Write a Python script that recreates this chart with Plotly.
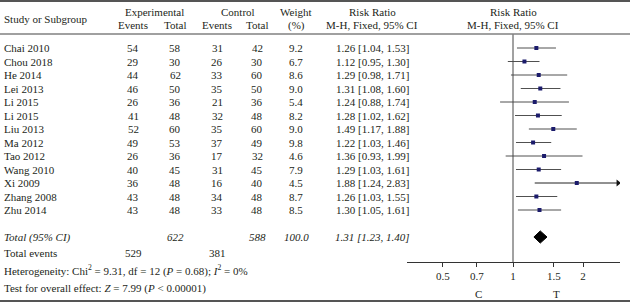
import math
import plotly.graph_objects as go

# ---------------- data ----------------
studies = ["Chai 2010", "Chou 2018", "He 2014", "Lei 2013", "Li 2015", "Li 2015",
           "Liu 2013", "Ma 2012", "Tao 2012", "Wang 2010", "Xi 2009", "Zhang 2008", "Zhu 2014"]
exp_events = [54, 29, 44, 46, 26, 41, 52, 49, 26, 40, 36, 43, 43]
exp_total = [58, 30, 62, 50, 36, 48, 60, 53, 36, 45, 48, 48, 48]
ctl_events = [31, 26, 33, 35, 21, 32, 35, 37, 17, 31, 16, 34, 33]
ctl_total = [42, 30, 60, 50, 36, 48, 60, 49, 32, 45, 40, 48, 48]
weights = ["9.2", "6.7", "8.6", "9.0", "5.4", "8.2", "9.0", "9.8", "4.6", "7.9", "4.5", "8.7", "8.5"]
rr = [1.26, 1.12, 1.29, 1.31, 1.24, 1.28, 1.49, 1.22, 1.36, 1.29, 1.88, 1.26, 1.30]
rr_lo = [1.04, 0.95, 0.98, 1.08, 0.88, 1.02, 1.17, 1.03, 0.93, 1.03, 1.24, 1.03, 1.05]
rr_hi = [1.53, 1.30, 1.71, 1.60, 1.74, 1.62, 1.88, 1.46, 1.99, 1.61, 2.83, 1.55, 1.61]
arrow_studies = ["Xi 2009"]

total_exp = 622
total_ctl = 588
total_weight = "100.0"
total_rr = 1.31
total_lo = 1.23
total_hi = 1.40
events_exp = 529
events_ctl = 381
heterogeneity = "Heterogeneity: Chi<sup>2</sup> = 9.31, df = 12 (<i>P</i> = 0.68); <i>I</i><sup>2</sup> = 0%"
overall = "Test for overall effect: <i>Z</i> = 7.99 (<i>P</i> &lt; 0.00001)"
tick_vals = [0.5, 0.7, 1, 1.5, 2]
tick_text = ["0.5", "0.7", "1", "1.5", "2"]
favours = ["C", "T"]

# ---------------- layout constants ----------------
W, H = 630, 303
ROW0 = 48.0
PITCH = 13.5
FONT = "Liberation Serif"
TXT = "#231f20"
FS = 11


def row(px):
    return (px - ROW0) / PITCH


X1_PX = 513.0
PX_DEC = 232.6
AX_L, AX_R = 407.0, 620.0
x_range = [(AX_L - X1_PX) / PX_DEC, (AX_R - X1_PX) / PX_DEC]

fig = go.Figure()

n = len(studies)
rows = list(range(n))

# CI lines
xs, ys = [], []
for i in rows:
    if studies[i] in arrow_studies:
        continue
    xs += [rr_lo[i], rr_hi[i], None]
    ys += [i, i, None]
fig.add_trace(go.Scatter(x=xs, y=ys, mode="lines", line=dict(color="#505050", width=1),
                         hoverinfo="skip", showlegend=False))
for i in rows:
    if studies[i] in arrow_studies:
        fig.add_trace(go.Scatter(x=[rr_lo[i], rr_hi[i]], y=[i, i], mode="lines",
                                 line=dict(color="#222222", width=1), hoverinfo="skip", showlegend=False))
        fig.add_trace(go.Scatter(x=[rr_hi[i]], y=[i], mode="markers",
                                 marker=dict(symbol="triangle-right", size=6, color="#111111"),
                                 hoverinfo="skip", showlegend=False))

# point estimates
fig.add_trace(go.Scatter(x=rr, y=rows, mode="markers",
                         marker=dict(symbol="square", size=4, color="#1b1b6b"),
                         hoverinfo="skip", showlegend=False))

# total diamond
tr = 14
fig.add_trace(go.Scatter(x=[total_lo, total_rr, total_hi, total_rr, total_lo],
                         y=[tr, tr - 0.45, tr, tr + 0.45, tr], mode="lines", fill="toself",
                         fillcolor="#000000", line=dict(color="#000000", width=1),
                         hoverinfo="skip", showlegend=False))

# vertical no-effect line
fig.add_trace(go.Scatter(x=[1, 1], y=[row(34), row(262)], mode="lines",
                         line=dict(color="#444444", width=1), hoverinfo="skip", showlegend=False))


def txt(xpx, r, s, anchor="center", size=FS):
    fig.add_annotation(x=xpx / W, xref="paper", y=r, yref="y", text=s, showarrow=False,
                       xanchor=anchor, yanchor="middle",
                       font=dict(family=FONT, size=size, color=TXT))


LEFT = 2
C_EE, C_ET, C_CE, C_CT, C_W, C_RR, C_FP = 133, 175, 217, 257, 296, 372, 513

# headers
txt(LEFT, row(19), "Study or Subgroup", "left")
txt(154, row(12), "Experimental")
txt(238, row(12), "Control")
txt(C_W, row(12), "Weight")
txt(C_RR, row(12), "Risk Ratio")
txt(C_FP, row(12), "Risk Ratio")
txt(C_EE, row(25), "Events")
txt(C_ET, row(25), "Total")
txt(C_CE, row(25), "Events")
txt(C_CT, row(25), "Total")
txt(C_W, row(25), "(%)")
txt(C_RR, row(25), "M-H, Fixed, 95% CI")
txt(C_FP, row(25), "M-H, Fixed, 95% CI")

for i in rows:
    txt(LEFT, i, studies[i], "left")
    txt(C_EE, i, str(exp_events[i]))
    txt(C_ET, i, str(exp_total[i]))
    txt(C_CE, i, str(ctl_events[i]))
    txt(C_CT, i, str(ctl_total[i]))
    txt(C_W, i, weights[i])
    txt(C_RR, i, f"{rr[i]:.2f} [{rr_lo[i]:.2f}, {rr_hi[i]:.2f}]")

txt(LEFT, tr, "<i>Total (95% CI)</i>", "left")
txt(C_ET, tr, f"<i>{total_exp}</i>")
txt(C_CT, tr, f"<i>{total_ctl}</i>")
txt(C_W, tr, f"<i>{total_weight}</i>")
txt(C_RR, tr, f"<i>{total_rr:.2f} [{total_lo:.2f}, {total_hi:.2f}]</i>")

txt(LEFT, row(253), "Total events", "left")
txt(C_EE, row(253), str(events_exp))
txt(C_CE, row(253), str(events_ctl))
txt(LEFT, row(270), heterogeneity, "left")
txt(LEFT, row(288), overall, "left")

txt(478, row(294), favours[0])
txt(556, row(294), favours[1])

# horizontal rules
for ypx, w, c in [(1, 2, "#555555"), (34, 1.5, "#808080"), (301, 2, "#555555")]:
    fig.add_shape(type="line", xref="paper", yref="paper", x0=0, x1=1,
                  y0=1 - ypx / H, y1=1 - ypx / H, line=dict(color=c, width=w))

fig.update_layout(
    width=W, height=H, margin=dict(l=0, r=0, t=0, b=0),
    paper_bgcolor="white", plot_bgcolor="white", showlegend=False,
    xaxis=dict(type="log", range=x_range, domain=[AX_L / W, AX_R / W], anchor="free",
               position=1 - 262 / H, showline=True, linecolor="#333333", linewidth=1,
               ticks="outside", ticklen=4, tickcolor="#333333", tickwidth=1,
               tickvals=tick_vals, ticktext=tick_text, showgrid=False, zeroline=False,
               tickfont=dict(family=FONT, size=FS, color=TXT), fixedrange=True),
    yaxis=dict(range=[row(H), row(0)], domain=[0, 1], visible=False, showgrid=False,
               zeroline=False, fixedrange=True),
)

fig.write_html("out.html", config={"displayModeBar": False})

# remove the browser's default page margin so the figure sits at the window origin
with open("out.html", "r", encoding="utf-8") as f:
    page = f.read()
page = page.replace("<head>", "<head><style>html,body{margin:0;padding:0;overflow:hidden;}</style>", 1)
with open("out.html", "w", encoding="utf-8") as f:
    f.write(page)
